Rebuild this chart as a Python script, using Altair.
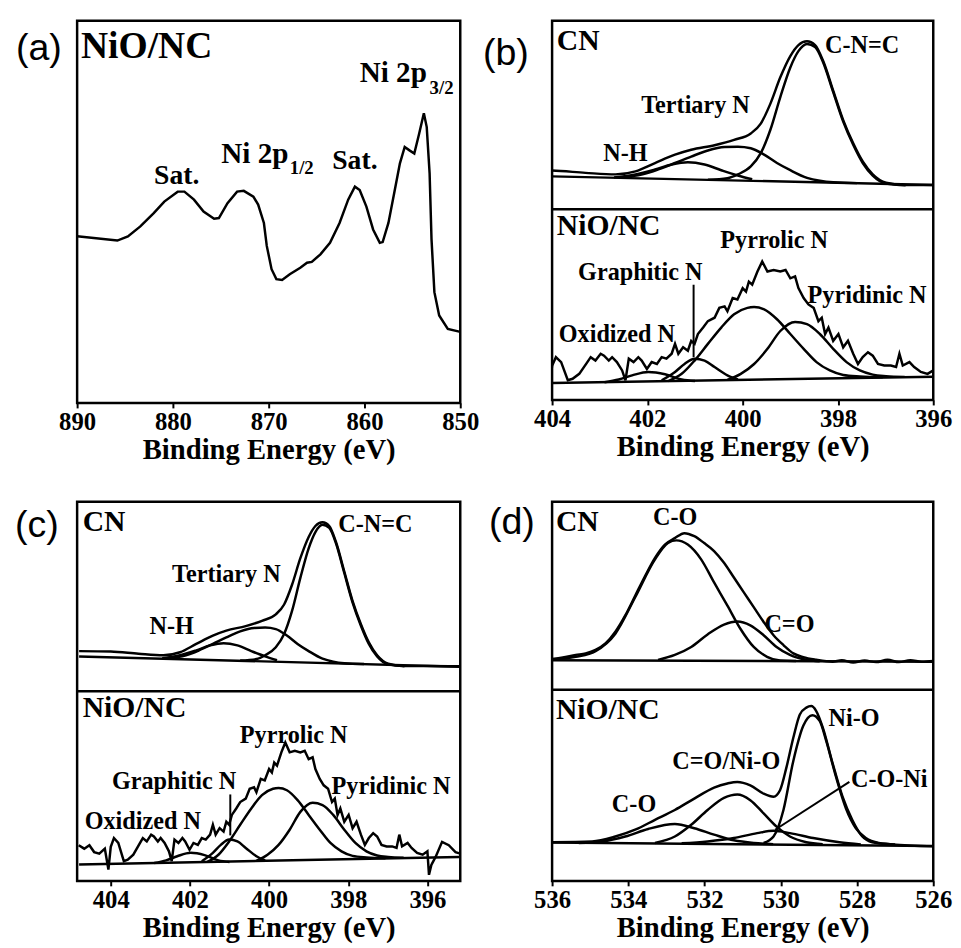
import altair as alt
import pandas as pd

SERIF = "Liberation Serif"
SANS = "Liberation Sans"

# ---------------- (a) Ni 2p, NiO/NC ----------------
a_energy = [890, 885.8, 884.7, 883.4, 882.0, 880.9, 879.5, 878.8, 877.8, 876.8,
            875.7, 875.2, 874.3, 873.3, 872.6, 871.6, 871.1, 870.5, 870.2, 869.7,
            869.2, 868.6, 867.8, 866.7, 866.0, 865.5, 864.6, 863.6, 862.6, 861.7,
            861.0, 860.5, 859.8, 859.1, 858.4, 858.1, 857.5, 856.9, 856.3, 855.8,
            855.3, 854.8, 854.3, 853.8, 853.5, 853.2, 853.0, 852.7, 852.2, 851.3, 850.0]
a_intensity = [0.436, 0.425, 0.436, 0.462, 0.497, 0.527, 0.553, 0.553, 0.532, 0.501,
               0.482, 0.484, 0.523, 0.553, 0.555, 0.540, 0.519, 0.471, 0.411, 0.350,
               0.324, 0.322, 0.337, 0.354, 0.367, 0.369, 0.389, 0.419, 0.471, 0.532,
               0.566, 0.557, 0.514, 0.454, 0.419, 0.421, 0.471, 0.549, 0.627, 0.670,
               0.661, 0.653, 0.704, 0.758, 0.722, 0.601, 0.428, 0.290, 0.229, 0.194, 0.186]

# ---------------- (b)/(c) N 1s ----------------
cn_n_envelope = [(404.8, 0.606), (404.0, 0.605), (403.3, 0.599), (402.67, 0.595), (402.25, 0.603),
                 (401.84, 0.625), (401.42, 0.647), (401.08, 0.660), (400.59, 0.672), (400.18, 0.686),
                 (399.83, 0.703), (399.62, 0.729), (399.42, 0.781), (399.21, 0.851), (399.0, 0.907),
                 (398.83, 0.936), (398.65, 0.946), (398.48, 0.936), (398.31, 0.894), (398.1, 0.816),
                 (397.89, 0.738), (397.68, 0.677), (397.48, 0.629), (397.27, 0.595), (396.99, 0.573),
                 (396.58, 0.567), (396.0, 0.567), (395.2, 0.566)]
cn_n_cnc = [(400.73, 0.581), (400.32, 0.585), (400.1, 0.595), (399.83, 0.616), (399.62, 0.651),
            (399.42, 0.712), (399.21, 0.799), (399.0, 0.877), (398.83, 0.920), (398.65, 0.939),
            (398.48, 0.931), (398.31, 0.890), (398.1, 0.812), (397.89, 0.734), (397.68, 0.673),
            (397.48, 0.625), (397.27, 0.592), (396.99, 0.571), (396.58, 0.566)]
cn_n_tertiary = [(402.6, 0.587), (402.1, 0.595), (401.77, 0.608), (401.42, 0.625), (401.08, 0.642),
                 (400.73, 0.658), (400.38, 0.667), (400.1, 0.668), (399.83, 0.664), (399.55, 0.647),
                 (399.28, 0.625), (399.0, 0.606), (398.65, 0.586), (398.38, 0.578), (398.1, 0.574),
                 (397.6, 0.572)]
cn_n_nh = [(402.7, 0.587), (402.25, 0.595), (401.84, 0.608), (401.49, 0.621), (401.15, 0.627),
           (400.8, 0.621), (400.45, 0.606), (400.1, 0.592), (399.8, 0.582)]
cn_n_background = [(404.8, 0.592), (395.2, 0.565)]

nio_n_raw = [(404.81, 0.094), (404.67, 0.085), (404.54, 0.094), (404.42, 0.076), (404.29, 0.072),
             (404.15, 0.085), (404.06, 0.030), (404.0, 0.090), (403.92, 0.113), (403.81, 0.100),
             (403.67, 0.052), (403.57, 0.056), (403.43, 0.069), (403.26, 0.100), (403.19, 0.113),
             (403.09, 0.104), (402.98, 0.122), (402.91, 0.117), (402.81, 0.104), (402.74, 0.113),
             (402.64, 0.100), (402.53, 0.078), (402.46, 0.052), (402.39, 0.109), (402.29, 0.100),
             (402.19, 0.113), (402.12, 0.104), (402.01, 0.082), (401.91, 0.100), (401.8, 0.095),
             (401.7, 0.113), (401.6, 0.109), (401.49, 0.122), (401.42, 0.148), (401.35, 0.122),
             (401.25, 0.139), (401.15, 0.130), (401.08, 0.156), (401.01, 0.148), (400.94, 0.174),
             (400.83, 0.191), (400.73, 0.208), (400.59, 0.217), (400.49, 0.243), (400.38, 0.247),
             (400.32, 0.234), (400.21, 0.269), (400.11, 0.265), (400.0, 0.295), (399.93, 0.286),
             (399.87, 0.312), (399.8, 0.304), (399.69, 0.339), (399.59, 0.365), (399.48, 0.339),
             (399.35, 0.343), (399.21, 0.339), (399.1, 0.343), (399.0, 0.321), (398.9, 0.326),
             (398.83, 0.295), (398.72, 0.269), (398.62, 0.252), (398.51, 0.243), (398.41, 0.208),
             (398.34, 0.217), (398.27, 0.174), (398.2, 0.191), (398.1, 0.156), (397.99, 0.174),
             (397.89, 0.139), (397.79, 0.156), (397.68, 0.122), (397.58, 0.095), (397.48, 0.113),
             (397.37, 0.126), (397.27, 0.117), (397.16, 0.095), (397.03, 0.091), (396.89, 0.091),
             (396.78, 0.087), (396.71, 0.122), (396.64, 0.091), (396.5, 0.100), (396.4, 0.087),
             (396.26, 0.074), (396.12, 0.069), (396.0, 0.078), (395.96, 0.016), (395.9, 0.042),
             (395.79, 0.064), (395.63, 0.103), (395.46, 0.094), (395.29, 0.076), (395.17, 0.072)]
nio_n_pyrrolic = [(401.56, 0.050), (401.28, 0.069), (401.01, 0.104), (400.73, 0.148), (400.45, 0.191),
                  (400.18, 0.226), (399.9, 0.243), (399.76, 0.245), (399.55, 0.239), (399.28, 0.213),
                  (399.0, 0.174), (398.72, 0.135), (398.45, 0.100), (398.17, 0.078), (397.89, 0.066),
                  (397.54, 0.062), (397.06, 0.060)]
nio_n_pyridinic = [(400.32, 0.053), (400.04, 0.069), (399.76, 0.095), (399.48, 0.135), (399.21, 0.182),
                   (398.9, 0.206), (398.65, 0.200), (398.38, 0.174), (398.1, 0.135), (397.82, 0.100),
                   (397.54, 0.078), (397.27, 0.067), (396.99, 0.063), (396.6, 0.061)]
nio_n_graphitic = [(401.7, 0.052), (401.42, 0.074), (401.22, 0.095), (401.01, 0.109), (400.8, 0.104),
                   (400.59, 0.087), (400.32, 0.065), (400.1, 0.054)]
nio_n_oxidized = [(402.9, 0.047), (402.6, 0.054), (402.32, 0.065), (401.98, 0.074), (401.63, 0.068),
                  (401.28, 0.054), (401.0, 0.050)]
nio_n_background = [(404.8, 0.043), (395.2, 0.063)]

# ---------------- (d) O 1s ----------------
cn_o_raw = [(536.0, 0.585), (535.72, 0.589), (535.38, 0.596), (535.12, 0.600), (534.86, 0.609),
            (534.6, 0.626), (534.34, 0.657), (534.08, 0.700), (533.82, 0.752), (533.56, 0.804),
            (533.3, 0.852), (533.04, 0.887), (532.78, 0.904), (532.53, 0.917), (532.27, 0.909),
            (532.01, 0.891), (531.75, 0.870), (531.49, 0.839), (531.23, 0.800), (530.97, 0.761),
            (530.71, 0.722), (530.45, 0.683), (530.19, 0.648), (529.93, 0.622), (529.67, 0.600),
            (529.41, 0.590), (529.07, 0.583), (528.64, 0.578), (528.4, 0.582), (528.1, 0.576),
            (527.8, 0.581), (527.5, 0.577), (527.2, 0.583), (526.9, 0.577), (526.6, 0.582),
            (526.3, 0.578), (526.0, 0.580)]
cn_o_co = [(536.0, 0.583), (535.38, 0.591), (534.86, 0.606), (534.34, 0.652), (533.82, 0.748),
           (533.3, 0.848), (532.96, 0.891), (532.74, 0.898), (532.44, 0.887), (532.09, 0.848),
           (531.75, 0.787), (531.4, 0.726), (531.06, 0.665), (530.71, 0.617), (530.36, 0.591),
           (530.02, 0.581), (529.6, 0.580)]
cn_o_c_eq_o = [(533.22, 0.583), (532.78, 0.596), (532.35, 0.617), (531.92, 0.650), (531.49, 0.676),
               (531.14, 0.684), (530.8, 0.674), (530.45, 0.648), (530.11, 0.617), (529.76, 0.596),
               (529.33, 0.583), (528.98, 0.579)]
cn_o_background = [(536.0, 0.582), (526.0, 0.578)]

nio_o_envelope = [(536.0, 0.102), (534.95, 0.104), (534.34, 0.117), (533.82, 0.135), (533.3, 0.161),
                  (532.78, 0.187), (532.27, 0.217), (531.75, 0.246), (531.4, 0.257), (531.14, 0.261),
                  (530.8, 0.252), (530.45, 0.230), (530.19, 0.222), (530.02, 0.239), (529.85, 0.300),
                  (529.67, 0.378), (529.5, 0.439), (529.33, 0.457), (529.2, 0.461), (529.07, 0.448),
                  (528.9, 0.405), (528.64, 0.310), (528.38, 0.222), (528.12, 0.160), (527.86, 0.117),
                  (527.6, 0.102), (527.08, 0.096), (526.0, 0.091)]
nio_o_nio = [(530.45, 0.100), (530.19, 0.117), (529.93, 0.187), (529.67, 0.317), (529.41, 0.409),
             (529.17, 0.437), (528.98, 0.422), (528.81, 0.370), (528.55, 0.274), (528.29, 0.191),
             (528.03, 0.139), (527.77, 0.113), (527.43, 0.100), (527.0, 0.096)]
nio_o_c_eq_o = [(533.3, 0.100), (532.78, 0.117), (532.35, 0.148), (531.92, 0.187), (531.49, 0.219),
                (531.14, 0.228), (530.8, 0.213), (530.45, 0.178), (530.11, 0.143), (529.76, 0.117),
                (529.33, 0.102), (528.9, 0.097)]
nio_o_co = [(535.3, 0.100), (534.69, 0.104), (534.08, 0.117), (533.48, 0.137), (532.78, 0.150),
            (532.27, 0.139), (531.75, 0.122), (531.23, 0.107), (530.71, 0.100), (530.2, 0.097)]
nio_o_coni = [(532.6, 0.099), (531.92, 0.104), (531.23, 0.113), (530.62, 0.126), (530.19, 0.132),
              (529.76, 0.126), (529.15, 0.113), (528.46, 0.102), (527.9, 0.096)]
nio_o_background = [(536.0, 0.101), (526.0, 0.092)]

# label lists: (text, x, y, align, size)
a_labels = [("NiO/NC", 889.6, 0.904, "left", 38), ("Sat.", 879.6, 0.574, "center", 28),
            ("Ni 2p", 874.95, 0.628, "left", 29.5), ("1/2", 867.8, 0.599, "left", 19),
            ("Sat.", 861.0, 0.612, "center", 28), ("Ni 2p", 860.5, 0.840, "left", 29.5),
            ("3/2", 853.2, 0.809, "left", 19)]
b_labels = [("CN", 403.9, 0.924, "left", 30), ("C-N=C", 398.27, 0.916, "left", 24.5),
            ("Tertiary N", 400.99, 0.757, "center", 24.5), ("N-H", 402.46, 0.629, "center", 24.5),
            ("NiO/NC", 403.9, 0.434, "left", 30), ("Pyrrolic N", 399.34, 0.401, "center", 24.5),
            ("Graphitic N", 402.15, 0.317, "center", 24.5), ("Pyridinic N", 397.39, 0.256, "center", 24.5),
            ("Oxidized N", 402.64, 0.152, "center", 24.5)]
c_labels = [("CN", 404.71, 0.924, "left", 30), ("C-N=C", 398.25, 0.919, "left", 24.5),
            ("Tertiary N", 401.08, 0.789, "center", 24.5), ("N-H", 402.46, 0.650, "center", 24.5),
            ("NiO/NC", 404.71, 0.433, "left", 30), ("Pyrrolic N", 399.38, 0.363, "center", 24.5),
            ("Graphitic N", 402.4, 0.242, "center", 24.5), ("Pyridinic N", 396.92, 0.228, "center", 24.5),
            ("Oxidized N", 403.19, 0.137, "center", 24.5)]
d_labels = [("CN", 535.9, 0.922, "left", 30), ("C-O", 532.77, 0.939, "center", 24.5),
            ("C=O", 530.43, 0.657, "left", 24.5), ("NiO/NC", 535.9, 0.426, "left", 30),
            ("Ni-O", 528.08, 0.409, "center", 24.5), ("C=O/Ni-O", 531.43, 0.296, "center", 24.5),
            ("C-O-Ni", 528.16, 0.248, "left", 24.5), ("C-O", 533.85, 0.183, "center", 24.5)]

b_pointers = [(401.03, 0.304, 401.03, 0.113)]
c_pointers = [(400.98, 0.228, 400.98, 0.120)]
d_pointers = [(528.2, 0.261, 530.15, 0.135)]

SEPARATOR = 0.503
YSCALE = alt.Scale(domain=[0, 1], nice=False, zero=False)


def to_df(series):
    rows = []
    for name, pts in series.items():
        for x, y in pts:
            rows.append({"x": x, "y": y, "s": name})
    return pd.DataFrame(rows)


def panel(domain, ticks, width, height, smooth, raw, labels, pointers, sep, tag, tag_x, tag_y):
    xs = alt.Scale(domain=domain, nice=False, zero=False)
    xax = alt.Axis(values=ticks, format="d", title="Binding Energy (eV)")

    def X():
        return alt.X("x:Q", scale=xs, axis=xax)

    def Y():
        return alt.Y("y:Q", scale=YSCALE, axis=None)

    layers = []
    if smooth:
        layers.append(alt.Chart(to_df(smooth)).mark_line(
            color="black", strokeWidth=2.5, interpolate="monotone", clip=True
        ).encode(x=X(), y=Y(), detail="s:N"))
    if raw:
        layers.append(alt.Chart(to_df(raw)).mark_line(
            color="black", strokeWidth=2.5, interpolate="linear", clip=True
        ).encode(x=X(), y=Y(), detail="s:N"))
    if sep is not None:
        layers.append(alt.Chart(pd.DataFrame({"y": [sep]})).mark_rule(
            color="black", strokeWidth=2.5).encode(y=Y()))
    for (x1, y1, x2, y2) in pointers:
        layers.append(alt.Chart(pd.DataFrame({"x": [x1], "y": [y1], "x2": [x2], "y2": [y2]})).mark_rule(
            color="black", strokeWidth=2).encode(x=X(), y=Y(), x2="x2:Q", y2="y2:Q"))
    for (t, x, y, align, size) in labels:
        layers.append(alt.Chart(pd.DataFrame({"x": [x], "y": [y], "t": [t]})).mark_text(
            font=SERIF, fontWeight="bold", fontSize=size, align=align, baseline="alphabetic",
            color="black").encode(x=X(), y=Y(), text="t:N"))
    layers.append(alt.Chart(pd.DataFrame({"t": [tag]})).mark_text(
        font=SANS, fontSize=38, align="left", baseline="alphabetic", color="black"
    ).encode(x=alt.value(tag_x), y=alt.value(tag_y), text="t:N"))
    return alt.layer(*layers).properties(width=width, height=height)


pa = panel([890, 850], [890, 880, 870, 860, 850], 388, 387,
           None, {"a": list(zip(a_energy, a_intensity))}, a_labels, [], None, "(a)", -62, 40)

n_smooth = {"cn_env": cn_n_envelope, "cnc": cn_n_cnc, "ter": cn_n_tertiary, "nh": cn_n_nh,
            "cn_bg": cn_n_background, "pyrrolic": nio_n_pyrrolic, "pyridinic": nio_n_pyridinic,
            "graphitic": nio_n_graphitic, "oxidized": nio_n_oxidized, "nio_bg": nio_n_background}
n_raw = {"nio_raw": nio_n_raw}

pb = panel([404, 396], [404, 402, 400, 398, 396], 386, 384,
           n_smooth, n_raw, b_labels, b_pointers, SEPARATOR, "(b)", -70, 45)
pc = panel([404.85, 395.17], [404, 402, 400, 398, 396], 388, 384,
           n_smooth, n_raw, c_labels, c_pointers, 0.500, "(c)", -63, 36)

o_smooth = {"cn_raw": cn_o_raw, "cn_co": cn_o_co, "cn_ceo": cn_o_c_eq_o, "cn_bg": cn_o_background,
            "env": nio_o_envelope, "nio": nio_o_nio, "ceo": nio_o_c_eq_o, "co": nio_o_co,
            "coni": nio_o_coni, "bg": nio_o_background}
pd_ = panel([536, 526], [536, 534, 532, 530, 528, 526], 386, 384,
            o_smooth, None, d_labels, d_pointers, 0.504, "(d)", -64, 33)

chart = alt.concat(
    pa, pb, pc, pd_, columns=2, bounds="flush", spacing={"row": 100, "column": 93}
).properties(
    padding={"left": 5, "top": 5, "right": 0, "bottom": 0}
).configure_view(
    stroke="black", strokeWidth=2.5
).configure_axis(
    labelFont=SERIF, labelFontWeight="bold", labelFontSize=25, labelColor="black",
    titleFont=SERIF, titleFontWeight="bold", titleFontSize=29, titleColor="black",
    tickColor="black", tickWidth=2, tickSize=5, domain=False, grid=False,
    labelPadding=2, titlePadding=1, labelFlush=False, labelOverlap=False
)

chart.save("out.html", embed_options={"renderer": "svg", "actions": False})
